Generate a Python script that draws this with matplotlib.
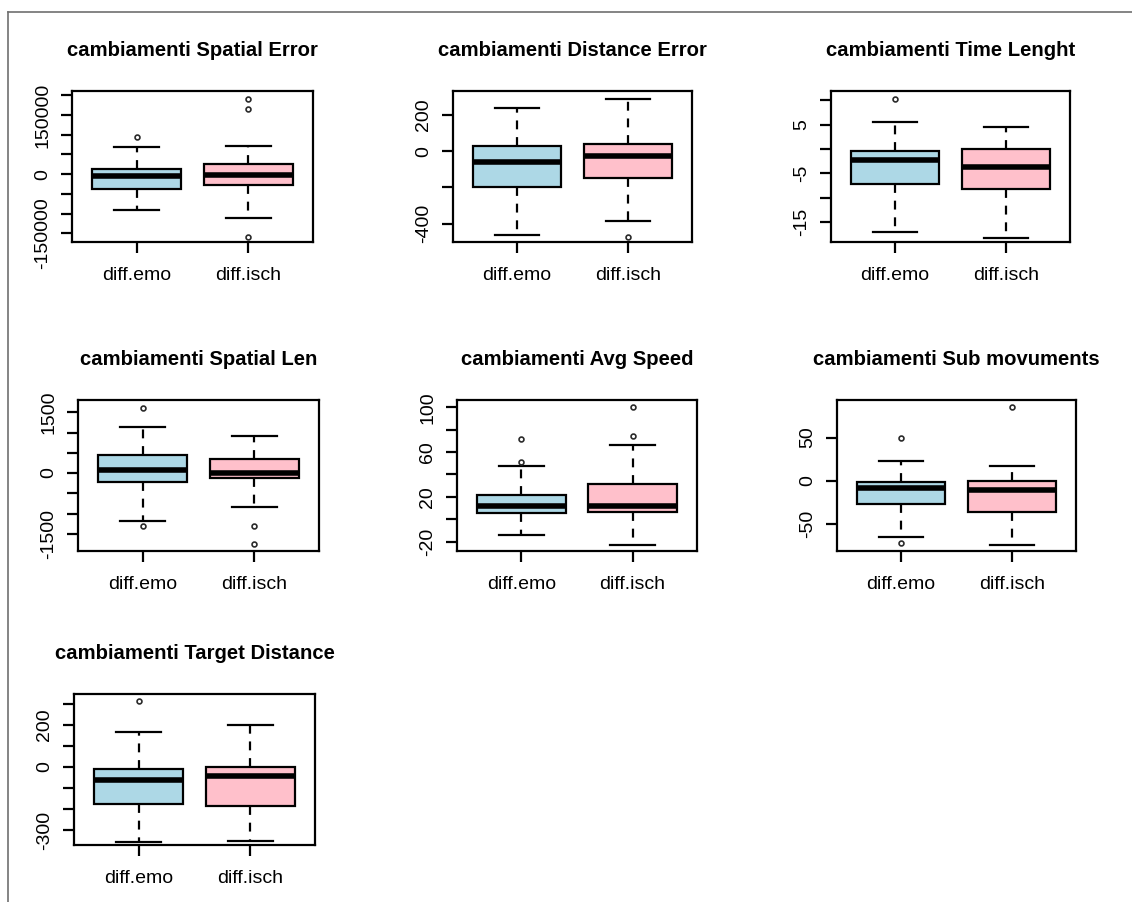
import matplotlib.pyplot as plt
from matplotlib.lines import Line2D

plt.rcParams['font.family'] = ['Liberation Sans', 'DejaVu Sans']

groups = ['diff.emo', 'diff.isch']
titles = ['cambiamenti Spatial Error', 'cambiamenti Distance Error', 'cambiamenti Time Lenght',
          'cambiamenti Spatial Len', 'cambiamenti Avg Speed', 'cambiamenti Sub movuments',
          'cambiamenti Target Distance']

# five-number summaries per variable: (whislo, q1, med, q3, whishi) for emo / isch
spatial_error_emo = [-92000, -37000, -4000, 12000, 69000]
spatial_error_isch = [-110000, -27000, -3000, 26000, 71000]
spatial_error_out = [[94000], [190000, 165000, -159000]]

distance_error_emo = [-463, -196, -57, 30, 239]
distance_error_isch = [-383, -146, -28, 39, 289]
distance_error_out = [[], [-472]]

time_emo = [-17.1, -7.1, -2.2, -0.4, 5.6]
time_isch = [-18.3, -8.2, -3.6, 0.0, 4.5]
time_out = [[10.2], []]

spatial_len_emo = [-1180, -221, 82, 434, 1139]
spatial_len_isch = [-828, -131, -8, 352, 918]
spatial_len_out = [[1615, -1311], [-1311, -1746]]

avg_speed_emo = [-13.7, 5.6, 12.2, 21.5, 47.3]
avg_speed_isch = [-23.3, 6.8, 11.6, 31.1, 66.4]
avg_speed_out = [[71.5, 50.9], [100, 74.2]]

sub_mov_emo = [-64.8, -26.8, -8.6, -1.9, 23.0]
sub_mov_isch = [-74.9, -36.0, -10.5, 0.0, 16.7]
sub_mov_out = [[50, -72.8], [85.2]]

target_emo = [-358, -174, -60, -8, 167]
target_isch = [-349, -184, -44, 0, 200]
target_out = [[314], []]

# y ticks and which of them carry a label (R drops the crowded ones)
yticks = [
    [-150000, -100000, -50000, 0, 50000, 100000, 150000, 200000],
    [-400, -200, 0, 200],
    [-15, -10, -5, 0, 5, 10],
    [-1500, -1000, -500, 0, 500, 1000, 1500],
    [-20, 0, 20, 40, 60, 80, 100],
    [-50, 0, 50],
    [-300, -200, -100, 0, 100, 200, 300],
]
ylabels = [
    ['-150000', '', '', '0', '', '', '150000', ''],
    ['-400', '', '0', '200'],
    ['-15', '', '-5', '', '5', ''],
    ['-1500', '', '', '0', '', '', '1500'],
    ['-20', '', '20', '', '60', '', '100'],
    ['-50', '0', '50'],
    ['-300', '', '', '0', '', '200', ''],
]
ylims = [(-172000, 211000), (-500, 331), (-19.05, 11.9), (-1926, 1803),
         (-28.4, 106.6), (-81.5, 93.6), (-370, 345)]

data = [
    (spatial_error_emo, spatial_error_isch, spatial_error_out),
    (distance_error_emo, distance_error_isch, distance_error_out),
    (time_emo, time_isch, time_out),
    (spatial_len_emo, spatial_len_isch, spatial_len_out),
    (avg_speed_emo, avg_speed_isch, avg_speed_out),
    (sub_mov_emo, sub_mov_isch, sub_mov_out),
    (target_emo, target_isch, target_out),
]

W, H = 1132, 902
# plot regions in pixels: left, top, right, bottom
frames = [(72, 91, 313, 242), (453, 91, 692, 242), (831, 91, 1070, 242),
          (78, 400, 319, 551), (457, 400, 697, 551), (837, 400, 1076, 551),
          (74, 694, 315, 845)]

fig = plt.figure(figsize=(W / 100, H / 100), dpi=100)

for i, (emo, isch, out) in enumerate(data):
    l, t, r, b = frames[i]
    ax = fig.add_axes([l / W, 1 - b / H, (r - l) / W, (b - t) / H])
    stats = []
    for name, s, fl in zip(groups, [emo, isch], out):
        stats.append(dict(label=name, whislo=s[0], q1=s[1], med=s[2], q3=s[3], whishi=s[4], fliers=fl))
    bp = ax.bxp(stats, positions=[1, 2], widths=0.8, capwidths=0.4, patch_artist=True,
                boxprops=dict(linewidth=1.6, edgecolor='black'),
                medianprops=dict(color='black', linewidth=4, solid_capstyle='butt'),
                whiskerprops=dict(color='black', linewidth=1.6, linestyle=(0, (4, 3.5))),
                capprops=dict(color='black', linewidth=1.6),
                flierprops=dict(marker='o', markersize=3.5, markerfacecolor='none',
                                markeredgecolor='#2a2a2a', markeredgewidth=1.2))
    for patch, col in zip(bp['boxes'], ['lightblue', 'pink']):
        patch.set_facecolor(col)
    ax.set_xlim(0.42, 2.58)
    ax.set_ylim(*ylims[i])
    ax.set_yticks(yticks[i])
    ax.set_yticklabels(ylabels[i], rotation=90, va='center')
    ax.tick_params(axis='both', length=8, width=1.6, labelsize=14, color='black')
    ax.tick_params(axis='x', pad=10)
    ax.tick_params(axis='y', pad=7)
    for sp in ax.spines.values():
        sp.set_linewidth(1.6)
    ax.set_title(titles[i], fontsize=14.6, fontweight='bold', pad=25)

# outer frame lines along top and left edge
fig.add_artist(Line2D([8 / W, 1], [1 - 12 / H, 1 - 12 / H], color='#707070', linewidth=1.2))
fig.add_artist(Line2D([8 / W, 8 / W], [0, 1 - 12 / H], color='#707070', linewidth=1.2))

fig.savefig('out.png', dpi=100)
